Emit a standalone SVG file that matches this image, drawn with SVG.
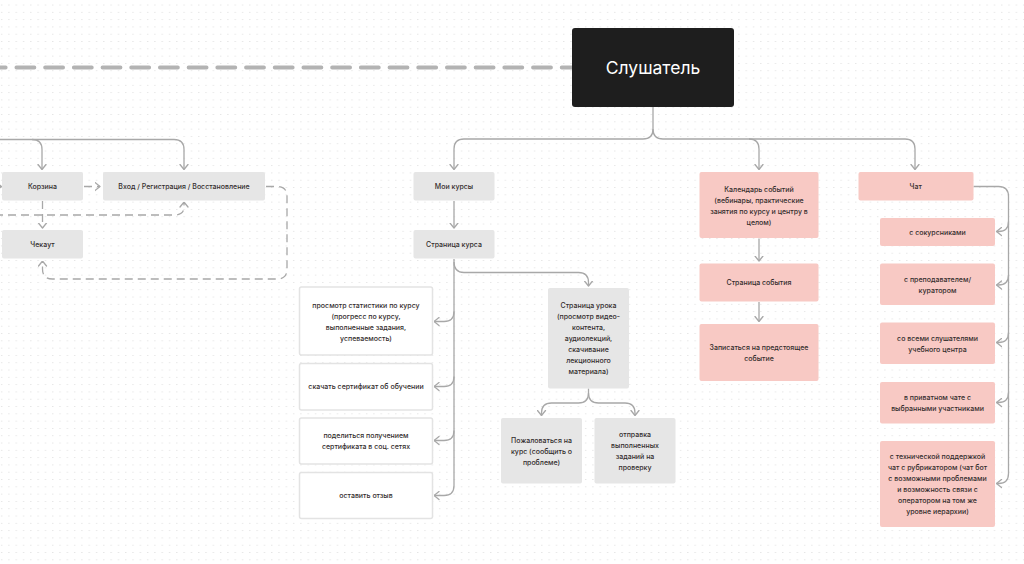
<svg xmlns="http://www.w3.org/2000/svg" width="1024" height="564" viewBox="0 0 1024 564">
<defs>
<pattern id="dots" width="7.3" height="7.3" patternUnits="userSpaceOnUse">
<circle cx="1.7" cy="5" r="0.55" fill="#d2d2d2"/>
</pattern>
<marker id="a" viewBox="0 0 6 10" refX="5.5" refY="5" markerWidth="6" markerHeight="10" markerUnits="userSpaceOnUse" orient="auto">
<path d="M0.5,1 L5.5,5 L0.5,9" fill="none" stroke="#a8a8a8" stroke-width="1.3" stroke-linecap="round" stroke-linejoin="round"/>
</marker>
<style>
.c{fill:none;stroke:#a8a8a8;stroke-width:1.3;marker-end:url(#a)}
.d{fill:none;stroke:#a8a8a8;stroke-width:1.3;stroke-dasharray:8 5;marker-end:url(#a)}
.g rect{fill:#e6e6e6}
.p rect{fill:#f8c9c4}
.w rect{fill:#ffffff;stroke:#e3e3e3;stroke-width:1.5}
text{font-family:Inter,"Liberation Sans",sans-serif;font-size:7px;font-weight:500;fill:#332d2d;text-anchor:middle;dominant-baseline:central}
</style>
</defs>
<rect width="1024" height="564" fill="#ffffff"/>
<rect width="1024" height="564" fill="url(#dots)"/>

<g id="connectors">
<path d="M-12.3,67.5 H580" fill="none" stroke="#b3b3b3" stroke-width="3.8" stroke-linecap="round" stroke-dasharray="18 10.7"/>
<path class="c" d="M653,107 V129 Q653,139 643,139 H464 Q454,139 454,149 V169.5"/>
<path class="c" d="M653,129 Q653,139 663,139 H905 Q915,139 915,149 V169.5"/>
<path class="c" d="M749,139 Q759,139 759,149 V169.5"/>
<path class="c" d="M-5,139.5 H174 Q184,139.5 184,149.5 V169.5"/>
<path class="c" d="M32,139.5 Q42,139.5 42,149.5 V169.5"/>
<path class="d" d="M-20,186.5 H1.5"/>
<path class="d" d="M84,186.5 H100"/>
<path class="d" d="M42.5,201 V228"/>
<path class="d" d="M-5,215 H174 Q184,215 184,207 V202"/>
<path class="d" d="M266,186.5 H277 Q287,186.5 287,196.5 V269 Q287,279 277,279 H52.5 Q42.5,279 42.5,269 V261"/>
<path class="c" d="M454,201 V228"/>
<path class="c" d="M454,259 V485.5 Q454,495.5 444,495.5 H434"/>
<path class="c" d="M454,311.5 Q454,321.5 444,321.5 H434"/>
<path class="c" d="M454,376.5 Q454,386.5 444,386.5 H434"/>
<path class="c" d="M454,430.5 Q454,440.5 444,440.5 H434"/>
<path class="c" d="M454,262 Q454,272.5 464,272.5 H578.5 Q588.5,272.5 588.5,282.5 V286"/>
<path class="c" d="M588.5,388.5 V393 Q588.5,403 578.5,403 H551.5 Q541.5,403 541.5,413 V415.5"/>
<path class="c" d="M588.5,393 Q588.5,403 598.5,403 H625 Q635,403 635,413 V415.5"/>
<path class="c" d="M759,238.5 V261"/>
<path class="c" d="M759,302 V321.5"/>
<path class="c" d="M973.5,186.5 H998.5 Q1008.5,186.5 1008.5,196.5 V473.5 Q1008.5,483.5 998.5,483.5 H996.5"/>
<path class="c" d="M1008.5,221.5 Q1008.5,231.5 998.5,231.5 H996.5"/>
<path class="c" d="M1008.5,275 Q1008.5,285 998.5,285 H996.5"/>
<path class="c" d="M1008.5,332.5 Q1008.5,342.5 998.5,342.5 H996.5"/>
<path class="c" d="M1008.5,392.5 Q1008.5,402.5 998.5,402.5 H996.5"/>
</g>

<g id="listener">
<rect x="572" y="28" width="162" height="79" rx="3" fill="#1e1e1e"/>
<text x="653" y="67.5" style="font-size:17.5px;font-weight:400;fill:#ffffff">Слушатель</text>
</g>

<g id="cart" class="g"><rect x="2" y="172" width="81" height="28.5" rx="2"/><text x="42.5" y="186.5">Корзина</text></g>
<g id="login" class="g"><rect x="103" y="172" width="162" height="28.5" rx="2"/><text x="184" y="186.5">Вход / Регистрация / Восстановление</text></g>
<g id="checkout" class="g"><rect x="2" y="230" width="81" height="28.5" rx="2"/><text x="42.5" y="244.5">Чекаут</text></g>

<g id="my-courses" class="g"><rect x="413.5" y="172" width="81" height="28.5" rx="2"/><text x="454" y="186.5">Мои курсы</text></g>
<g id="course-page" class="g"><rect x="413.5" y="230" width="81" height="28.5" rx="2"/><text x="454" y="244.5">Страница курса</text></g>

<g id="stats" class="w"><rect x="299.5" y="287" width="133" height="68" rx="2"/>
<text x="366" y="305.5">просмотр статистики по курсу</text>
<text x="366" y="316.5">(прогресс по курсу,</text>
<text x="366" y="327.5">выполненные задания,</text>
<text x="366" y="338.5">успеваемость)</text></g>
<g id="certificate" class="w"><rect x="299.5" y="363.5" width="133" height="46.5" rx="2"/><text x="366" y="386.7">скачать сертификат об обучении</text></g>
<g id="share" class="w"><rect x="299.5" y="418" width="133" height="46" rx="2"/>
<text x="366" y="435.5">поделиться получением</text>
<text x="366" y="446.5">сертификата в соц. сетях</text></g>
<g id="review" class="w"><rect x="299.5" y="472.5" width="133" height="46" rx="2"/><text x="366" y="495.5">оставить отзыв</text></g>

<g id="lesson-page" class="g"><rect x="548" y="288" width="81" height="100.5" rx="2"/>
<text x="588.5" y="305.3">Страница урока</text>
<text x="588.5" y="316.3">(просмотр видео-</text>
<text x="588.5" y="327.3">контента,</text>
<text x="588.5" y="338.3">аудиолекций,</text>
<text x="588.5" y="349.3">скачивание</text>
<text x="588.5" y="360.3">лекционного</text>
<text x="588.5" y="371.3">материала)</text></g>
<g id="complain" class="g"><rect x="501" y="418" width="81" height="65.5" rx="2"/>
<text x="541.5" y="440">Пожаловаться на</text>
<text x="541.5" y="451">курс (сообщить о</text>
<text x="541.5" y="462">проблеме)</text></g>
<g id="submit" class="g"><rect x="594.5" y="418" width="81" height="65.5" rx="2"/>
<text x="635" y="434.5">отправка</text>
<text x="635" y="445.5">выполненных</text>
<text x="635" y="456.5">заданий на</text>
<text x="635" y="467.5">проверку</text></g>

<g id="calendar" class="p"><rect x="699.5" y="172" width="119" height="66" rx="2"/>
<text x="759" y="189">Календарь событий</text>
<text x="759" y="200">(вебинары, практические</text>
<text x="759" y="211">занятия по курсу и центру в</text>
<text x="759" y="222">целом)</text></g>
<g id="event-page" class="p"><rect x="699.5" y="263.5" width="119" height="38" rx="2"/><text x="759" y="282.5">Страница события</text></g>
<g id="event-signup" class="p"><rect x="699.5" y="324" width="119" height="57" rx="2"/>
<text x="759" y="347">Записаться на предстоящее</text>
<text x="759" y="358">событие</text></g>

<g id="chat" class="p"><rect x="858.5" y="172" width="115" height="28.5" rx="2"/><text x="915.7" y="186.5">Чат</text></g>
<g id="chat-mates" class="p"><rect x="880" y="218" width="115" height="28" rx="2"/><text x="937.5" y="232">с сокурсниками</text></g>
<g id="chat-teacher" class="p"><rect x="880" y="263.5" width="115" height="41.5" rx="2"/>
<text x="937.5" y="279.5">с преподавателем/</text>
<text x="937.5" y="290.5">куратором</text></g>
<g id="chat-all" class="p"><rect x="880" y="322.5" width="115" height="41.5" rx="2"/>
<text x="937.5" y="338">со всеми слушателями</text>
<text x="937.5" y="349">учебного центра</text></g>
<g id="chat-private" class="p"><rect x="880" y="382" width="115" height="41.5" rx="2"/>
<text x="937.5" y="397.5">в приватном чате с</text>
<text x="937.5" y="408.5">выбранными участниками</text></g>
<g id="chat-support" class="p"><rect x="880" y="441" width="115" height="86" rx="2"/>
<text x="937.5" y="456.5">с технической поддержкой</text>
<text x="937.5" y="467.5">чат с рубрикатором (чат бот</text>
<text x="937.5" y="478.5">с возможными проблемами</text>
<text x="937.5" y="489.5">и возможность связи с</text>
<text x="937.5" y="500.5">оператором на том же</text>
<text x="937.5" y="511.5">уровне иерархии)</text></g>
</svg>
